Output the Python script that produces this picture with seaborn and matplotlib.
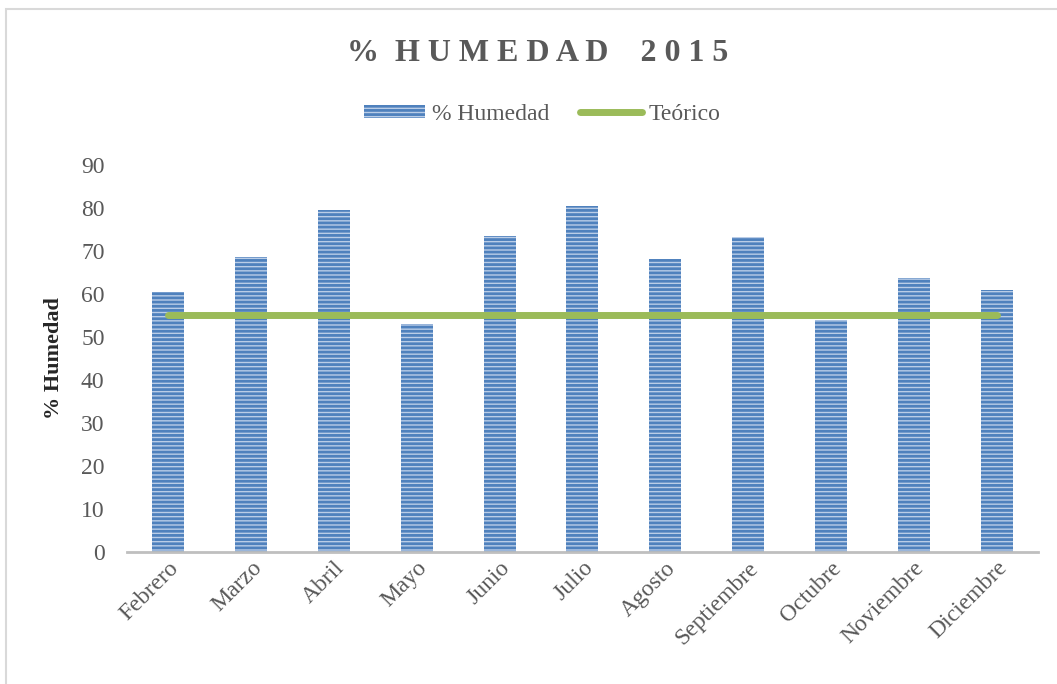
import numpy as np
import pandas as pd
import matplotlib
matplotlib.use('Agg')
import matplotlib.pyplot as plt
import seaborn as sns
from matplotlib.patches import Patch, Rectangle
from matplotlib.lines import Line2D

# datos
meses = ['Febrero', 'Marzo', 'Abril', 'Mayo', 'Junio', 'Julio', 'Agosto',
         'Septiembre', 'Octubre', 'Noviembre', 'Diciembre']
humedad = [60.5, 68.5, 79.4, 53.1, 73.4, 80.4, 68.0, 73.3, 54.0, 63.6, 60.8]
teorico = [55] * len(meses)

sns.set_theme(style='white')
plt.rcParams['font.family'] = ['Liberation Serif', 'DejaVu Serif']
plt.rcParams['hatch.linewidth'] = 2.0

gris = '#595959'
azul = '#4F81BD'
verde = '#9BBB59'

df = pd.DataFrame({'Mes': meses, 'Humedad': humedad})

fig = plt.figure(figsize=(10.57, 6.84), dpi=100)
ax = fig.add_axes([0.120, 0.193, 0.862, 0.566])

sns.barplot(data=df, x='Mes', y='Humedad', ax=ax, color='#BACDE7',
            width=0.385, saturation=1, hatch='----', edgecolor=azul,
            linewidth=0)
sns.lineplot(x=np.arange(len(meses)), y=teorico, ax=ax, color=verde,
             linewidth=5, solid_capstyle='round')

ax.set_ylim(0, 90)
ax.set_xlim(-0.5, len(meses) - 0.5)
ax.set_yticks(range(0, 91, 10))
ax.tick_params(axis='y', labelsize=17, labelcolor=gris, length=0, pad=16)
ax.tick_params(axis='x', labelsize=17, labelcolor=gris, length=0, pad=4)
ax.set_xticks(range(len(meses)))
ax.set_xticklabels(meses, rotation=45, ha='right', rotation_mode='anchor')
ax.set_xlabel('')
ax.set_ylabel('% Humedad', fontsize=16, fontweight='bold', color='#262626',
              labelpad=12)
for s in ['top', 'right', 'left']:
    ax.spines[s].set_visible(False)
ax.spines['bottom'].set_color('#BFBFBF')
ax.spines['bottom'].set_linewidth(2)

fig.text(0.509, 0.922, '%  H U M E D A D    2 0 1 5', ha='center', va='center',
         fontsize=23, fontweight='bold', color=gris)

handles = [Patch(facecolor='#BACDE7', edgecolor=azul, hatch='----', linewidth=0),
           Line2D([0], [0], color=verde, linewidth=5, solid_capstyle='round')]
fig.legend(handles, ['% Humedad', 'Teórico'], loc='center', ncol=2,
           bbox_to_anchor=(0.513, 0.833), frameon=False, fontsize=17,
           labelcolor=gris, handlelength=2.6, handleheight=0.5,
           handletextpad=0.3, columnspacing=1.3)

fig.patches.append(Rectangle((0.006, -0.05), 1.2, 1.037, transform=fig.transFigure,
                             fill=False, edgecolor='#D9D9D9', linewidth=1.5))

fig.savefig('out.png', dpi=100)
